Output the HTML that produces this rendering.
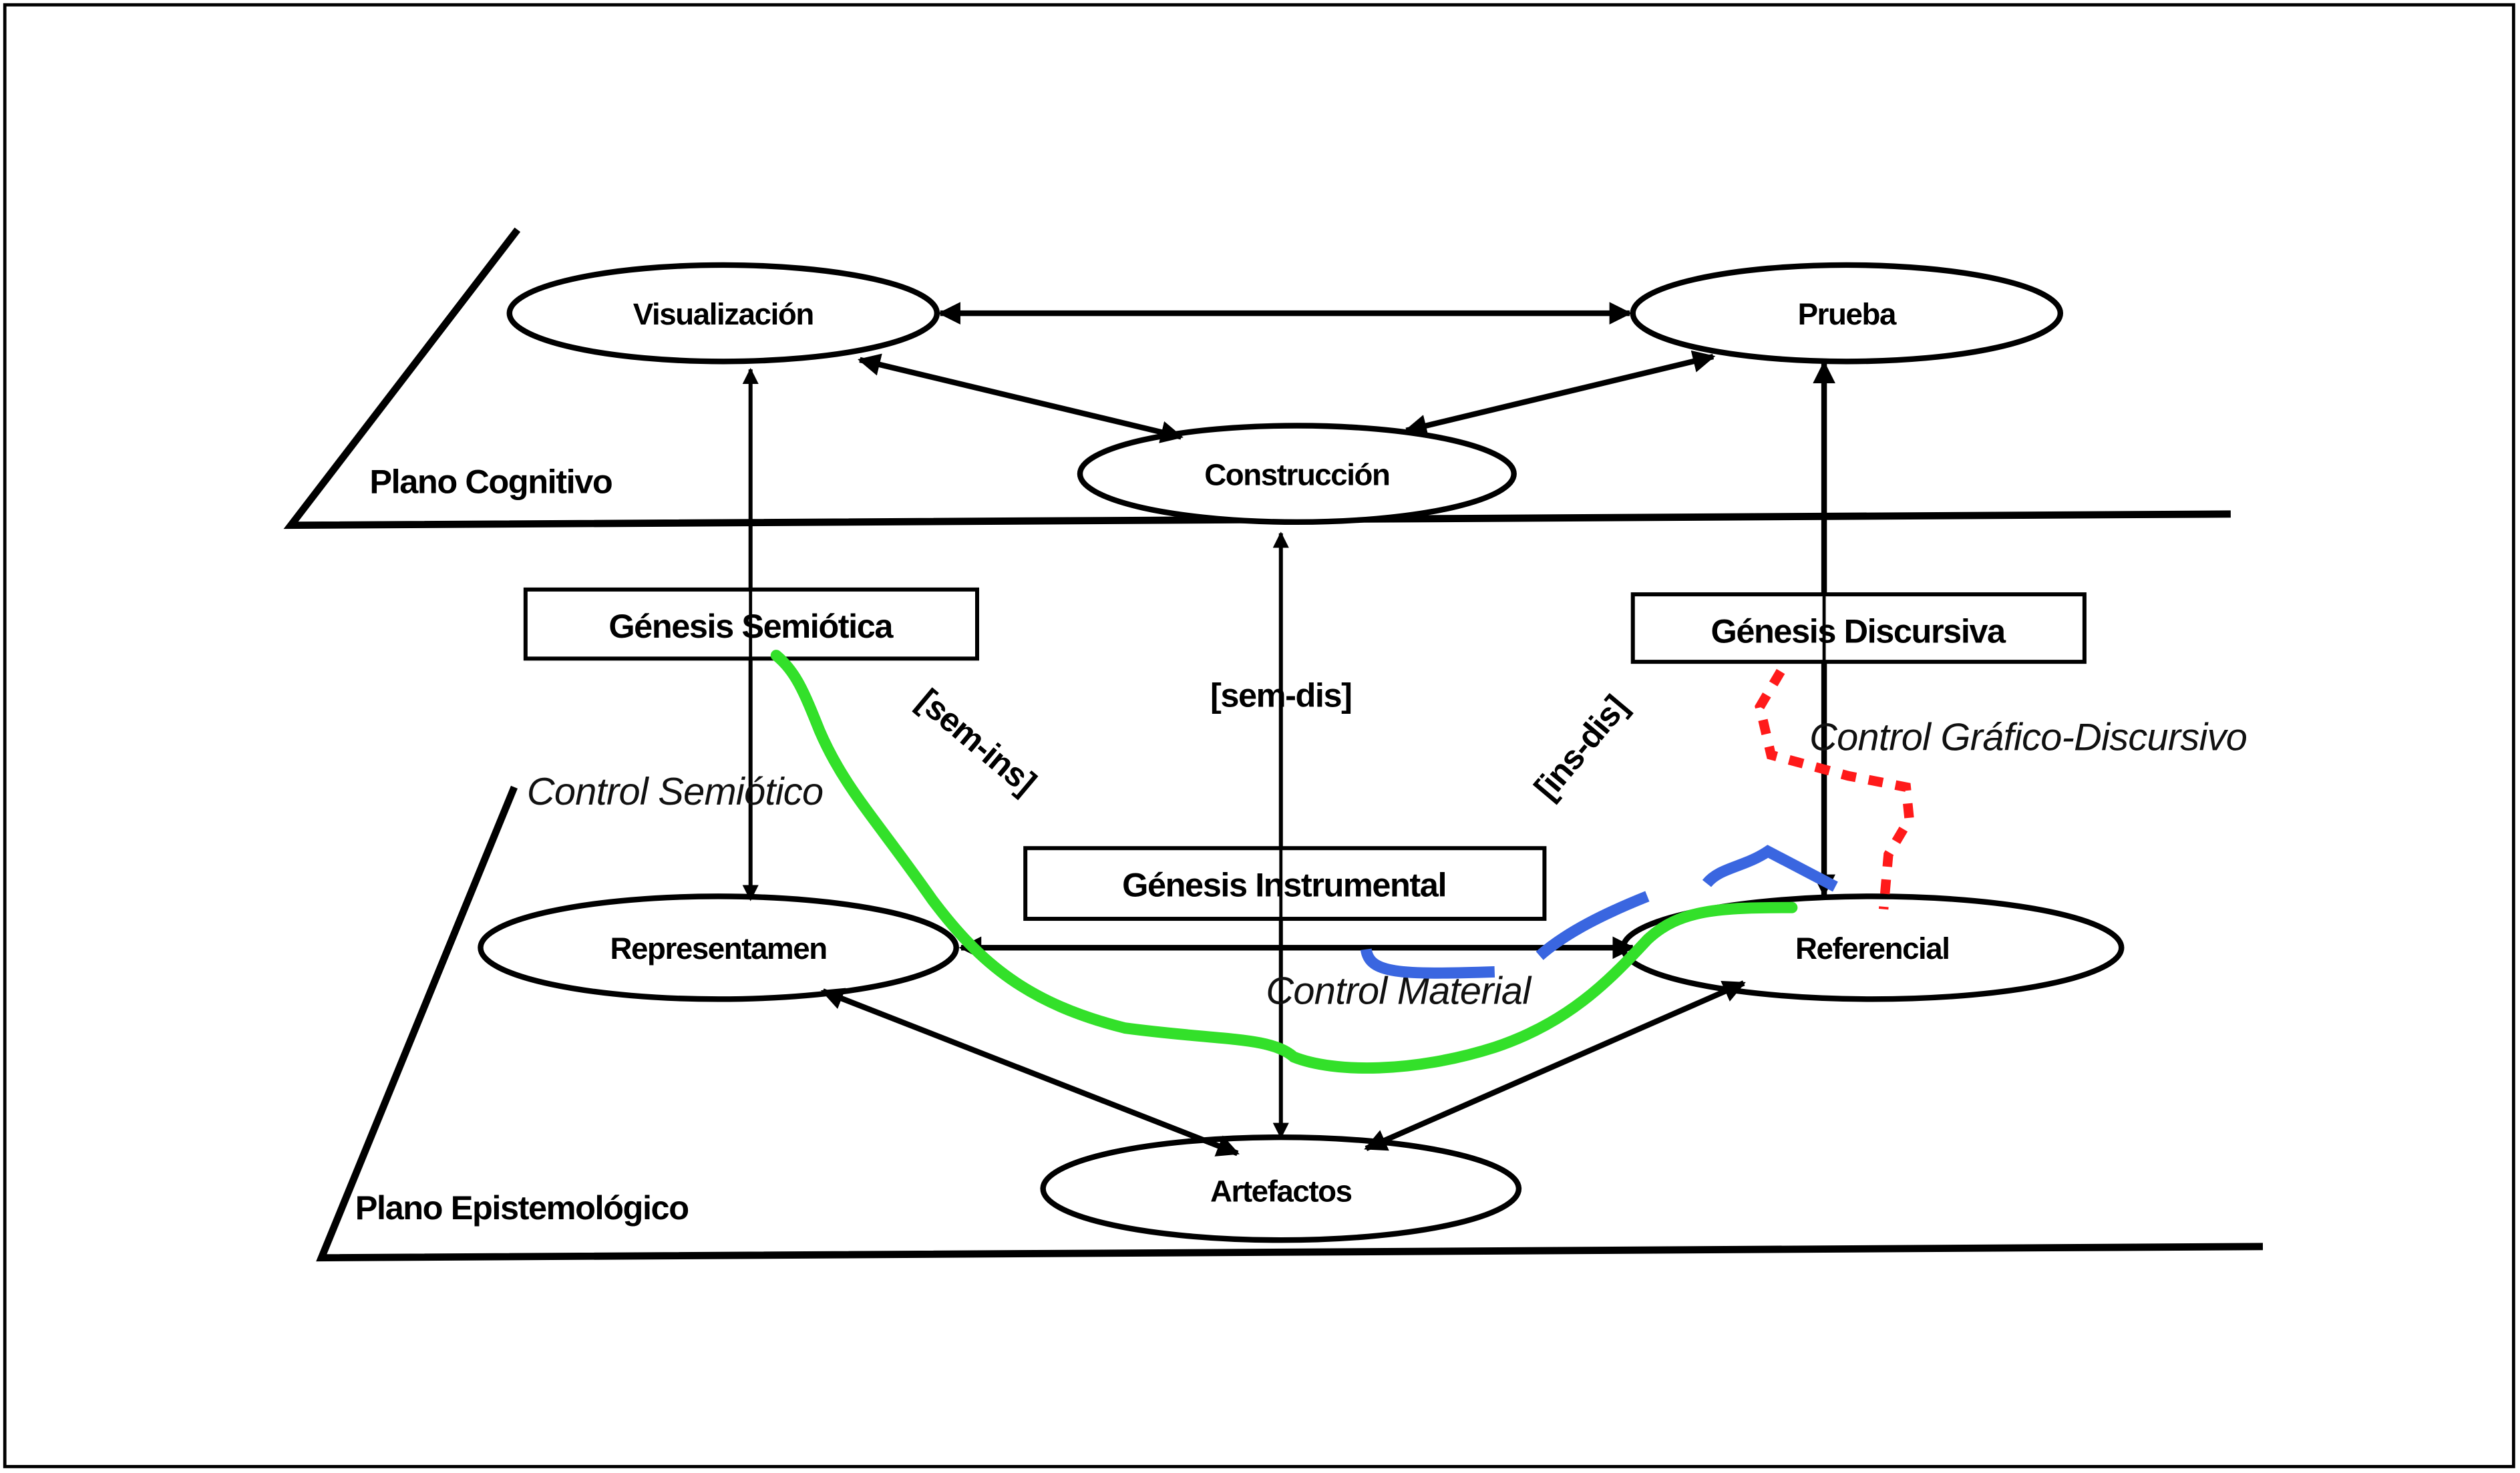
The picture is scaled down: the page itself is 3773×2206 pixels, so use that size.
<!DOCTYPE html>
<html><head><meta charset="utf-8"><style>
html,body{margin:0;padding:0;background:#fff;}
svg{display:block;}
.b{font-family:"Liberation Sans",sans-serif;font-weight:bold;font-size:19px;fill:#000;text-anchor:middle;letter-spacing:-0.6px;}
.i{font-family:"Liberation Sans",sans-serif;font-style:italic;font-size:24px;fill:#111;text-anchor:middle;letter-spacing:-0.3px;}
</style></head><body>
<svg width="3773" height="2206" viewBox="0 0 1568 917" preserveAspectRatio="none" xmlns="http://www.w3.org/2000/svg">
<defs>
<marker id="a" viewBox="0 0 10 10" refX="9" refY="5" markerWidth="4" markerHeight="4" orient="auto-start-reverse">
<path d="M0,0 L10,5 L0,10 z" fill="#000"/></marker>
</defs>
<rect x="3" y="3" width="1561" height="910" fill="#fff" stroke="#000" stroke-width="2"/>
<g stroke="#000" stroke-width="4.5" fill="none">
<polyline points="322,143 181,327 1388,320"/>
<polyline points="320,490 200,783 1408,776"/>
</g>
<g stroke="#000" stroke-width="3.5" fill="#fff">
<ellipse cx="450" cy="195" rx="133" ry="30"/>
<ellipse cx="1149" cy="195" rx="133" ry="30"/>
<ellipse cx="807" cy="295" rx="135" ry="30"/>
<ellipse cx="447" cy="590" rx="148" ry="32"/>
<ellipse cx="1165" cy="590" rx="155" ry="32"/>
<ellipse cx="797" cy="740" rx="148" ry="32"/>
</g>
<g stroke="#000" stroke-width="3.5" fill="none" marker-start="url(#a)" marker-end="url(#a)">
<line x1="585" y1="195" x2="1014" y2="195"/>
<line x1="535" y1="224" x2="735" y2="272"/>
<line x1="1066" y1="222" x2="875" y2="268"/>
<line x1="1135" y1="226" x2="1135" y2="557"/>
<line x1="598" y1="590" x2="1016" y2="590"/>
<line x1="512" y1="617" x2="770" y2="718"/>
<line x1="1085" y1="612" x2="850" y2="715"/>
</g>
<g stroke="#000" stroke-width="2.5" fill="none" marker-start="url(#a)" marker-end="url(#a)">
<line x1="467" y1="230" x2="467" y2="560"/>
<line x1="797" y1="332" x2="797" y2="708"/>
</g>
<g stroke="#000" stroke-width="2.5" fill="#fff">
<rect x="327" y="367" width="281" height="43"/>
<rect x="1016" y="370" width="281" height="42"/>
<rect x="638" y="528" width="323" height="44"/>
</g>
<line x1="467" y1="367" x2="467" y2="410" stroke="#000" stroke-width="2"/>
<line x1="1135" y1="370" x2="1135" y2="412" stroke="#000" stroke-width="2"/>
<line x1="797" y1="528" x2="797" y2="572" stroke="#000" stroke-width="2"/>
<text class="b" x="450" y="202">Visualización</text>
<text class="b" x="1149" y="202">Prueba</text>
<text class="b" x="807" y="302">Construcción</text>
<text class="b" x="447" y="597">Representamen</text>
<text class="b" x="1165" y="597">Referencial</text>
<text class="b" x="797" y="748">Artefactos</text>
<text class="b" x="467" y="397" style="font-size:21px">Génesis Semiótica</text>
<text class="b" x="1156" y="400" style="font-size:21px">Génesis Discursiva</text>
<text class="b" x="799" y="558" style="font-size:21px">Génesis Instrumental</text>
<text class="b" x="797" y="440" style="font-size:21px">[sem-dis]</text>
<text class="b" x="0" y="0" style="font-size:21px" transform="translate(603,467) rotate(40)">[sem-ins]</text>
<text class="b" x="0" y="0" style="font-size:21px" transform="translate(989,470) rotate(-50)">[ins-dis]</text>
<text class="b" x="230" y="307" style="text-anchor:start;font-size:21px">Plano Cognitivo</text>
<text class="b" x="221" y="759" style="text-anchor:start;font-size:21px">Plano Epistemológico</text>
<text class="i" x="420" y="501">Control Semiótico</text>
<text class="i" x="1262" y="467">Control Gráfico-Discursivo</text>
<text class="i" x="870" y="625">Control Material</text>
<path d="M483,408 C495,418 500,430 510,455 C525,490 545,510 580,560 C610,600 640,625 700,640 C760,648 790,645 805,658 C830,668 880,668 930,652 C975,637 1000,612 1025,585 C1045,566 1070,565 1115,565" stroke="#33e02a" stroke-width="7" fill="none" stroke-linecap="round"/>
<path d="M850,591 C852,606 870,607 930,605" stroke="#3a66e0" stroke-width="7" fill="none"/>
<path d="M958,595 C975,580 1000,568 1025,558" stroke="#3a66e0" stroke-width="7" fill="none"/>
<path d="M1062,550 C1070,540 1085,540 1100,530 L1142,552" stroke="#3a66e0" stroke-width="7" fill="none"/>
<path d="M1108,418 L1095,440 L1102,470 L1150,483 L1186,490 L1188,510 L1175,532 L1172,566" stroke="#ff1a1a" stroke-width="6" fill="none" stroke-dasharray="9,8"/>
</svg>
</body></html>
